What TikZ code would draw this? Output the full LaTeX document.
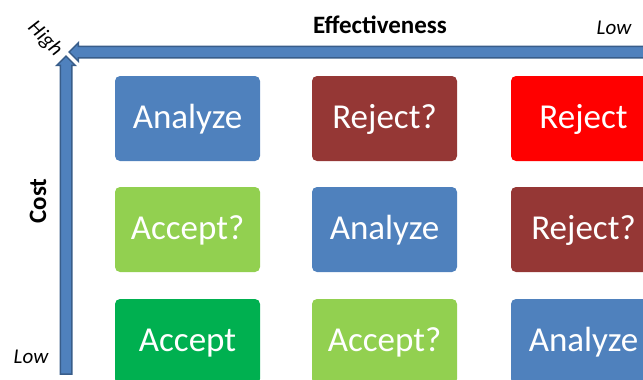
\documentclass[tikz,border=0pt]{standalone}
\usepackage{fontspec}
\setmainfont{Carlito}
\usetikzlibrary{shapes.arrows}
\definecolor{analyze}{HTML}{4F81BD}
\definecolor{axisline}{HTML}{385D8A}
\definecolor{rejectmaybe}{HTML}{953735}
\definecolor{reject}{HTML}{FF0000}
\definecolor{acceptmaybe}{HTML}{92D050}
\definecolor{accept}{HTML}{00B050}
\tikzset{
  decision/.style = {rounded corners=5pt, minimum width=145pt, minimum height=85pt, inner sep=0pt,
    text=white, font=\fontsize{35}{35}\selectfont, text height=19pt, text depth=0pt}
}
\tikzset{
  axis/.style = {single arrow, draw=axisline, fill=analyze, line width=1.5pt, inner sep=5pt,
    single arrow head extend=3.5pt}
}
\tikzset{
  axislabel/.style = {font=\bfseries\fontsize{25}{25}\selectfont},
  endlabel/.style = {font=\itshape\fontsize{21}{21}\selectfont}
}

\begin{document}
\begin{tikzpicture}[x=1pt,y=-1pt]
  \useasboundingbox (0,0) rectangle (643,380);
  \clip (0,0) rectangle (643,380);
  % axes
  \node (Eff) at (361,52) [axis, shape border rotate=180, minimum height=578pt] {};
  \node (Cst) at (66,218) [axis, shape border rotate=90, minimum height=318pt] {};
  % axis labels
  \node (effectiveness) at (380,25) [axislabel] {Effectiveness};
  \node (cost) at (38,201) [axislabel, rotate=90] {Cost};
  \node (high) at (45,39) [endlabel, rotate=-45] {High};
  \node (lowE) at (614,28) [endlabel] {Low};
  \node (lowC) at (31,357) [endlabel] {Low};
  % top row
  \node (A1) at (187.5,118.5) [decision, fill=analyze] {Analyze};
  \node (B1) at (384.5,118.5) [decision, fill=rejectmaybe] {Reject?};
  \node (C1) at (583.5,118.5) [decision, fill=reject] {Reject};
  % middle row
  \node (A2) at (187.5,229.5) [decision, fill=acceptmaybe] {Accept?};
  \node (B2) at (384.5,229.5) [decision, fill=analyze] {Analyze};
  \node (C2) at (583.5,229.5) [decision, fill=rejectmaybe] {Reject?};
  % bottom row
  \node (A3) at (187.5,341.5) [decision, fill=accept] {Accept};
  \node (B3) at (384.5,341.5) [decision, fill=acceptmaybe] {Accept?};
  \node (C3) at (583.5,341.5) [decision, fill=analyze] {Analyze};
\end{tikzpicture}
\end{document}
